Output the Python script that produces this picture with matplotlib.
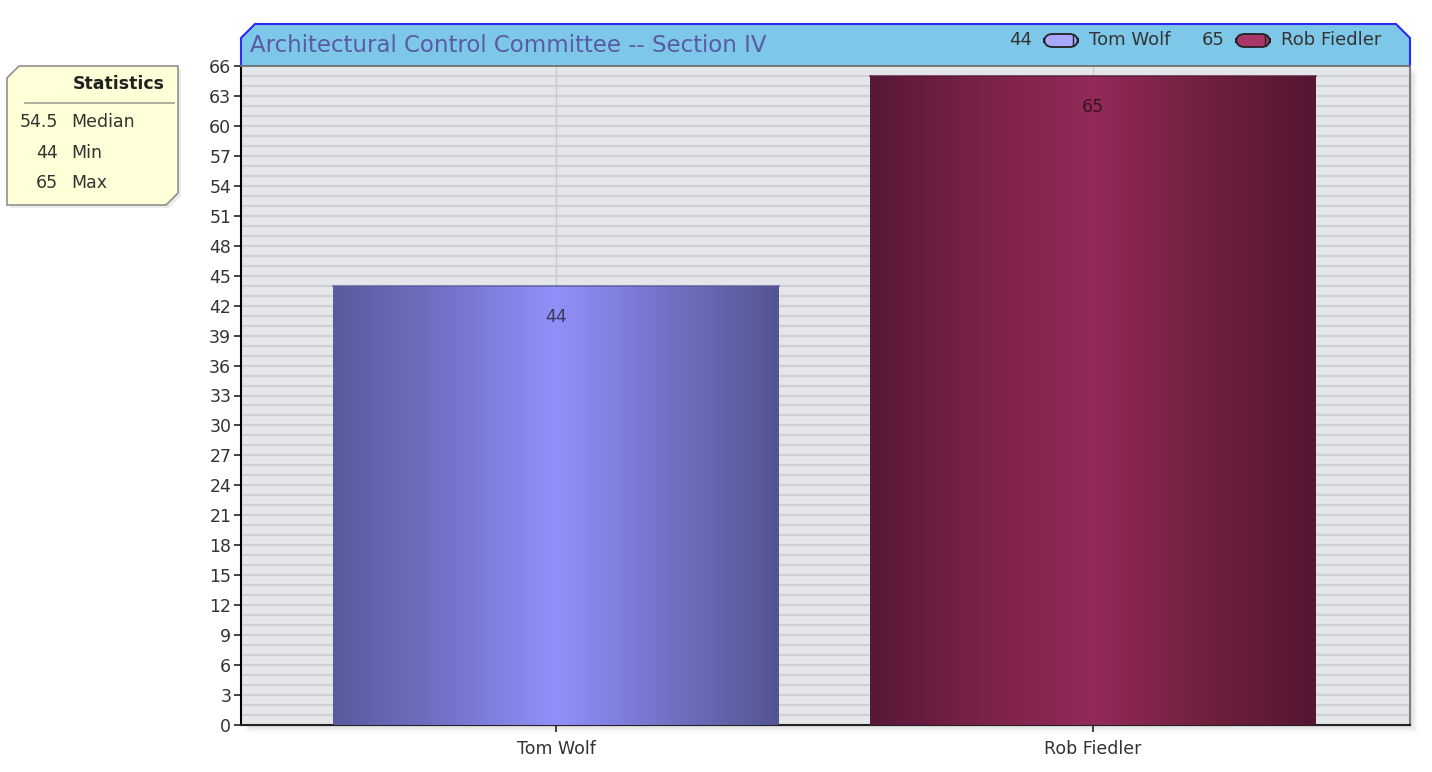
import numpy as np
import matplotlib
matplotlib.use("Agg")
import matplotlib.pyplot as plt
from matplotlib.patches import Polygon, FancyBboxPatch, Rectangle
from matplotlib.colors import LinearSegmentedColormap

# ---- data ----
names = ["Tom Wolf", "Rob Fiedler"]
values = [44, 65]
title = "Architectural Control Committee -- Section IV"
yticks = list(range(0, 67, 3))
grad_colors = [
    ["#5A5A9E", "#7272C8", "#9090FA", "#7272C6", "#545492"],
    ["#581838", "#7A2248", "#922A5A", "#72203F", "#541632"],
]
legend_fill = ["#A8A8FF", "#A8386A"]
label_colors = ["#3A3A5A", "#3A1222"]

W, H = 1432, 772
plt.rcParams['font.family'] = ['DejaVu Sans']
FS = 12.5
fig = plt.figure(figsize=(W / 100, H / 100), dpi=100)
fig.patch.set_facecolor("white")

def px(x, y):
    return (x / W, 1 - y / H)

L, R, T, B = 241, 1410, 66, 725
ax = fig.add_axes([L / W, 1 - B / H, (R - L) / W, (B - T) / H])
ax.set_facecolor("#E4E6E9")

# soft shadow behind plot area
for i, a in enumerate([0.05, 0.04, 0.03, 0.02]):
    off = 2 + i * 2
    fig.patches.append(Rectangle(px(L + off, B + off), (R - L) / W, (B - T) / H,
                                 transform=fig.transFigure, facecolor="black",
                                 alpha=a, edgecolor="none", zorder=-5))

x = np.arange(len(names))
bars = ax.bar(x, values, width=0.83, color="none", edgecolor="none", zorder=3)
ax.set_xlim(-0.587, 1.59)
ax.set_ylim(0, 66)

# gradient fill for each bar
for b, cols in zip(bars, grad_colors):
    cmap = LinearSegmentedColormap.from_list("g", cols)
    grad = np.linspace(0, 1, 256).reshape(1, -1)
    x0, y0 = b.get_x(), b.get_y()
    im = ax.imshow(grad, cmap=cmap, aspect="auto",
                   extent=[x0, x0 + b.get_width(), y0, y0 + b.get_height()],
                   zorder=3, interpolation="bicubic")
    im.set_clip_path(b)
    ax.plot([x0, x0 + b.get_width()], [y0 + b.get_height()] * 2,
            color=cols[0], lw=1.2, zorder=4, alpha=0.8)

# value labels
for b, v, c in zip(bars, values, label_colors):
    ax.annotate(str(v), xy=(b.get_x() + b.get_width() / 2, v), xytext=(0, -31),
                textcoords="offset pixels", ha="center", va="center",
                fontsize=FS, color=c, zorder=5)

# striped grid
for yv in np.arange(1, 66, 1.0):
    ax.axhline(yv, color="#D0D1D4", lw=1.6, zorder=1)
for xv in x:
    ax.axvline(xv, color="#C9CACD", lw=1.0, zorder=1.5)

ax.set_yticks(yticks)
ax.set_yticklabels([str(t) for t in yticks])
ax.set_xticks(x)
ax.set_xticklabels(names)
ax.tick_params(axis="both", labelsize=FS, colors="#222222", length=5, width=1.2,
               labelcolor="#333333")
ax.tick_params(axis="y", pad=2)
ax.tick_params(axis="x", pad=6)
ax.spines["top"].set_visible(False)
ax.spines["left"].set_color("black")
ax.spines["left"].set_linewidth(1.5)
ax.spines["bottom"].set_color("#222222")
ax.spines["bottom"].set_linewidth(1.5)
ax.spines["right"].set_color("#808080")
ax.spines["right"].set_linewidth(1.5)

# title band
band = Polygon([px(L, T), px(L, 38), px(255, 24), px(1396, 24), px(R, 38), px(R, T)],
               closed=True, transform=fig.transFigure, facecolor="#7DC8E8",
               edgecolor="none", zorder=2)
fig.patches.append(band)
fig.lines.append(plt.Line2D(*zip(px(L, T), px(L, 38), px(255, 24), px(1396, 24), px(R, 38), px(R, T)),
                            transform=fig.transFigure, color="#2A2AF0", lw=1.5, zorder=3))
fig.lines.append(plt.Line2D(*zip(px(L, T), px(R, T)), transform=fig.transFigure,
                            color="#707070", lw=1.3, zorder=3))
fig.text(*px(250, 45), title, fontsize=16.5, color="#5A5AA6", va="center", ha="left")

# legend in the band
LFS = 13
leg_x = [(1032, 1044, 1089), (1225, 1236, 1281)]
for (vx, pxl, tx), v, n, fc in zip(leg_x, values, names, legend_fill):
    fig.text(*px(vx, 40), str(v), fontsize=LFS, color="#333333", va="center", ha="right")
    pill = FancyBboxPatch(px(pxl, 47), 34 / W, 13 / H,
                          boxstyle="round,pad=0,rounding_size=0.006",
                          transform=fig.transFigure, facecolor=fc,
                          edgecolor="#222222", lw=1.3, zorder=4, mutation_aspect=W / H)
    fig.patches.append(pill)
    fig.lines.append(plt.Line2D(*zip(px(pxl + 29, 34.5), px(pxl + 29, 45.5)),
                                transform=fig.transFigure, color="#222222", lw=1.0, zorder=5))
    fig.text(*px(tx, 40), n, fontsize=LFS, color="#333333", va="center", ha="left")

# statistics box
sx0, sx1, sy0, sy1 = 7, 178, 66, 205
shadow = Polygon([px(sx0 + 3, 78 + 3), px(19 + 3, sy0 + 3), px(sx1 + 3, sy0 + 3), px(sx1 + 3, 193 + 3),
                  px(166 + 3, sy1 + 3), px(sx0 + 3, sy1 + 3)], closed=True,
                 transform=fig.transFigure, facecolor="black", alpha=0.08,
                 edgecolor="none", zorder=3)
fig.patches.append(shadow)
stats_box = Polygon([px(sx0, 78), px(19, sy0), px(sx1, sy0), px(sx1, 193),
                     px(166, sy1), px(sx0, sy1)], closed=True,
                    transform=fig.transFigure, facecolor="#FFFFD8",
                    edgecolor="#909090", lw=1.2, zorder=4)
fig.patches.append(stats_box)
fig.text(*px(165, 84), "Statistics", fontsize=FS, fontweight="bold",
         color="#222222", ha="right", va="center", zorder=5)
fig.lines.append(plt.Line2D(*zip(px(25, 103), px(174, 103)), transform=fig.transFigure,
                            color="#A0A090", lw=1.2, zorder=5))
stat_vals = [np.median(values), min(values), max(values)]
stat_names = ["Median", "Min", "Max"]
for i, (sv, sn) in enumerate(zip(stat_vals, stat_names)):
    yy = 122 + i * 30.5
    s = f"{sv:g}"
    fig.text(*px(58, yy), s, fontsize=FS, color="#333333", ha="right", va="center", zorder=5)
    fig.text(*px(71, yy), sn, fontsize=FS, color="#333333", ha="left", va="center", zorder=5)

fig.savefig("out.png", dpi=100, facecolor="white")
